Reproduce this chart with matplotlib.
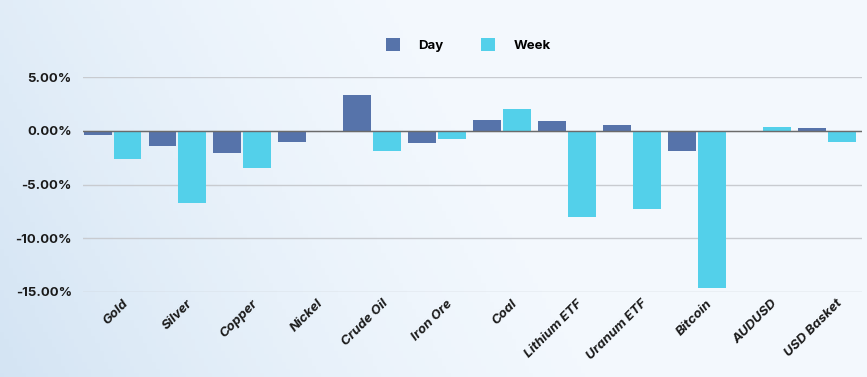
import numpy as np
import matplotlib.pyplot as plt

# Commodity returns, day vs week (%)
categories = ['Gold', 'Silver', 'Copper', 'Nickel', 'Crude Oil', 'Iron Ore', 'Coal',
              'Lithium ETF', 'Uranum ETF', 'Bitcoin', 'AUDUSD', 'USD Basket']
day = [-0.35, -1.46, -2.05, -1.08, 3.35, -1.15, 0.99, 0.93, 0.50, -1.89, 0.0, 0.25]
week = [-2.67, -6.76, -3.44, 0.0, -1.92, -0.77, 2.05, -8.06, -7.32, -14.63, 0.31, -1.09]
yticks = [5, 0, -5, -10, -15]

plt.rcParams['font.family'] = ['Inter', 'DejaVu Sans']

fig = plt.figure(figsize=(8.67, 3.77), dpi=100)

# soft bluish background, fading to white on the right
bg = fig.add_axes([0, 0, 1, 1], zorder=-10)
gx, gy = np.meshgrid(np.linspace(0, 1, 200), np.linspace(0, 1, 100))
shade = np.clip(1 - 1.3 * gx - 0.3 * (1 - gy), 0, 1) ** 1.5
bg.imshow(shade, cmap='Blues', vmin=-0.1, vmax=6.0, aspect='auto', origin='upper',
          extent=[0, 1, 0, 1])
bg.axis('off')

ax = fig.add_axes([83 / 867, 1 - 292 / 377, (862 - 83) / 867, (292 - 77) / 377])
ax.patch.set_alpha(0)
x = np.arange(len(categories))
w = 0.43
ax.bar(x - 0.275, day, w, color='#5673aa', label='Day', zorder=3)
ax.bar(x + 0.185, week, w, color='#53d0ea', label='Week', zorder=3)

ax.set_xlim(-0.5, len(categories) - 0.5)
ax.set_ylim(-15, 5)
ax.set_yticks(yticks)
ax.set_yticklabels([f'{v:.2f}%' for v in yticks], fontsize=9.5, fontweight='bold', color='#1a1a1a')
ax.grid(axis='y', color='#c8cbd0', linewidth=1, zorder=0)
ax.axhline(0, color='#6b6b6b', linewidth=1, zorder=4)
ax.set_xticks(x + 0.1)
ax.set_xticklabels(categories, rotation=45, ha='right', rotation_mode='anchor',
                   fontsize=9.5, fontweight='bold', fontstyle='italic', color='#1a1a1a')
ax.tick_params(axis='x', length=0, pad=4)
ax.tick_params(axis='y', length=0, pad=8)
for s in ax.spines.values():
    s.set_visible(False)

fig.legend(loc='center', bbox_to_anchor=(0.54, 0.88), ncol=2, frameon=False,
           prop={'weight': 'bold', 'size': 9.5}, handlelength=1.1, handleheight=1.1,
           columnspacing=2.8, handletextpad=1.4)

fig.savefig('out.png', dpi=100)
